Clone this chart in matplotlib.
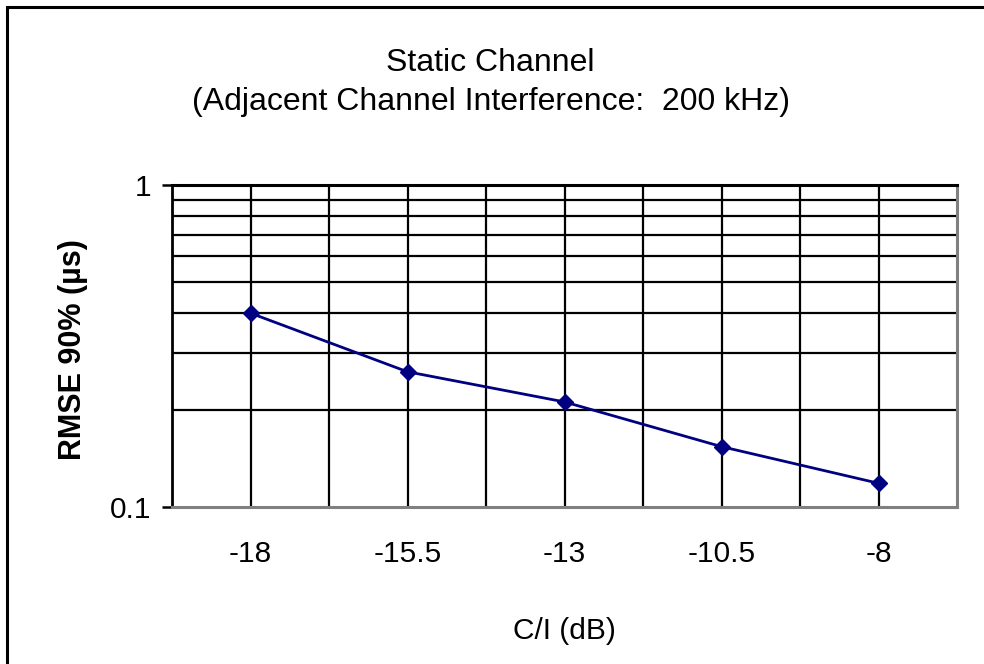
import matplotlib.pyplot as plt
import matplotlib.patches as mpatches
import numpy as np

ci = ['-18', '-15.5', '-13', '-10.5', '-8']
rmse = [0.40, 0.263, 0.212, 0.154, 0.1185]

plt.rcParams['font.family'] = ['Liberation Sans', 'DejaVu Sans']
fs = 21.5

fig = plt.figure(figsize=(9.84, 6.64), dpi=100)
ax = fig.add_axes([172/984, 1-507/664, (957-172)/984, (507-185)/664])

x = np.arange(len(ci))
ax.plot(x, rmse, '-', color='#000080', linewidth=2.0, marker='D', markersize=8, zorder=5)

ax.set_yscale('log')
ax.set_ylim(0.1, 1)
ax.set_xlim(-0.5, len(ci) - 0.5)

# grid: horizontal at minor ticks, vertical at every half category
for v in np.arange(0.2, 1.0, 0.1):
    ax.axhline(v, color='black', linewidth=1.6, zorder=1)
for v in np.arange(0, len(ci) - 0.5, 0.5):
    ax.axvline(v, color='black', linewidth=1.6, zorder=1)

ax.set_xticks(x)
ax.set_xticklabels(ci)
ax.set_yticks([0.1, 1])
ax.set_yticklabels(['0.1', '1'])
ax.yaxis.set_minor_locator(plt.NullLocator())
ax.tick_params(axis='x', length=0, pad=24, labelsize=fs)
ax.tick_params(axis='y', length=7, width=1.8, pad=8, labelsize=fs, direction='out')

ax.spines['top'].set_linewidth(2.2)
ax.spines['left'].set_linewidth(2.0)
ax.spines['bottom'].set_color('#808080')
ax.spines['right'].set_color('#808080')
ax.spines['bottom'].set_linewidth(2.2)
ax.spines['right'].set_linewidth(2.2)

ax.set_xlabel('C/I (dB)', fontsize=fs, labelpad=35)
ax.set_ylabel('RMSE 90% (µs)', fontsize=22, fontweight='bold')
ax.yaxis.set_label_coords(88/984, 1-350/664, transform=fig.transFigure)

fig.text(490/984, 1-63/664, 'Static Channel', ha='center', va='center', fontsize=23)
fig.text(491/984, 1-102/664, '(Adjacent Channel Interference:  200 kHz)', ha='center', va='center', fontsize=23)

# outer chart border
fig.patches.append(mpatches.Rectangle((7/984, -0.1), 1.1, 1.1 - 7/664, transform=fig.transFigure,
                                      fill=False, edgecolor='black', linewidth=2.2))

fig.savefig('out.png', dpi=100)
